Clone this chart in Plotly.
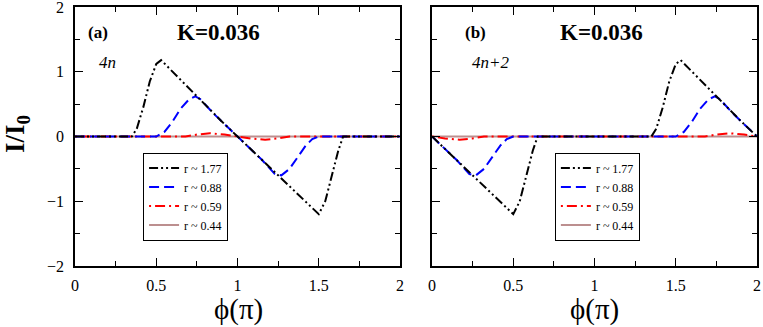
import plotly.graph_objects as go

# panel (a): 4n
phi_a_177 = [0, 0.35, 0.38, 0.42, 0.46, 0.50, 0.53, 0.60, 0.70, 0.80, 0.90, 1.00,
             1.10, 1.20, 1.30, 1.40, 1.47, 1.50, 1.54, 1.58, 1.62, 1.65, 2.0]
cur_a_177 = [0, 0, 0.12, 0.45, 0.85, 1.12, 1.18, 1.00, 0.74, 0.49, 0.24, 0,
             -0.24, -0.48, -0.72, -0.96, -1.13, -1.20, -1.00, -0.62, -0.22, 0, 0]
phi_a_088 = [0, 0.50, 0.55, 0.60, 0.65, 0.70, 0.74, 0.77, 0.85, 0.95, 1.00, 1.05,
             1.15, 1.23, 1.27, 1.32, 1.37, 1.42, 1.46, 1.50, 2.0]
cur_a_088 = [0, 0, 0.07, 0.23, 0.43, 0.57, 0.62, 0.58, 0.36, 0.12, 0, -0.12,
             -0.36, -0.58, -0.6, -0.5, -0.32, -0.14, -0.04, 0, 0]
phi_a_059 = [0, 0.68, 0.75, 0.83, 0.92, 1.00, 1.08, 1.17, 1.25, 1.32, 2.0]
cur_a_059 = [0, 0, 0.03, 0.05, 0.03, 0, -0.03, -0.05, -0.03, 0, 0]
phi_a_044 = [0, 0.5, 1.0, 1.5, 2.0]
cur_a_044 = [0, 0, 0, 0, 0]

# panel (b): 4n+2
phi_b_177 = [0, 0.10, 0.20, 0.30, 0.40, 0.47, 0.50, 0.54, 0.58, 0.62, 0.65, 1.35,
             1.38, 1.42, 1.46, 1.50, 1.53, 1.60, 1.70, 1.80, 1.90, 2.0]
cur_b_177 = [0, -0.24, -0.48, -0.72, -0.96, -1.13, -1.20, -1.00, -0.62, -0.22, 0, 0,
             0.12, 0.45, 0.85, 1.12, 1.18, 1.00, 0.74, 0.49, 0.24, 0]
phi_b_088 = [0, 0.05, 0.15, 0.23, 0.27, 0.32, 0.37, 0.42, 0.46, 0.50, 1.50,
             1.55, 1.60, 1.65, 1.70, 1.74, 1.77, 1.85, 1.95, 2.0]
cur_b_088 = [0, -0.12, -0.36, -0.58, -0.6, -0.5, -0.32, -0.14, -0.04, 0, 0,
             0.07, 0.23, 0.43, 0.57, 0.62, 0.58, 0.36, 0.12, 0]
phi_b_059 = [0, 0.08, 0.17, 0.25, 0.32, 1.68, 1.75, 1.83, 1.92, 2.0]
cur_b_059 = [0, -0.03, -0.05, -0.03, 0, 0, 0.03, 0.05, 0.03, 0]
phi_b_044 = [0, 0.5, 1.0, 1.5, 2.0]
cur_b_044 = [0, 0, 0, 0, 0]

labels = ["r ~ 1.77", "r ~ 0.88", "r ~ 0.59", "r ~ 0.44"]
colors = ["#000000", "#0000ff", "#ff0000", "#bc8f8f"]
dashes = ["9px,3px,2px,3px,2px,3px", "10px,5px", "2px,4px,10px,4px", "solid"]

x_ticks = [0, 0.5, 1, 1.5, 2]
y_ticks = [-2, -1, 0, 1, 2]

panel_a = [(phi_a_177, cur_a_177), (phi_a_088, cur_a_088),
           (phi_a_059, cur_a_059), (phi_a_044, cur_a_044)]
panel_b = [(phi_b_177, cur_b_177), (phi_b_088, cur_b_088),
           (phi_b_059, cur_b_059), (phi_b_044, cur_b_044)]

fig = go.Figure()
for i in [3, 2, 1, 0]:
    x, y = panel_a[i]
    fig.add_trace(go.Scatter(x=x, y=y, mode="lines", name=labels[i],
                             line=dict(color=colors[i], width=2, dash=dashes[i]),
                             xaxis="x", yaxis="y", legend="legend", legendrank=i))
    x, y = panel_b[i]
    fig.add_trace(go.Scatter(x=x, y=y, mode="lines", name=labels[i],
                             line=dict(color=colors[i], width=2, dash=dashes[i]),
                             xaxis="x2", yaxis="y2", legend="legend2", legendrank=i))

serif = "Liberation Serif"
axis_common = dict(range=[0, 2], showgrid=False, zeroline=False, showline=True,
                   linecolor="black", linewidth=1.5, mirror="ticks", ticks="inside",
                   ticklen=8, tickwidth=1.2, tickcolor="black", automargin=False,
                   tickvals=x_ticks, ticklabelstandoff=4, ticklabeloverflow="allow",
                   minor=dict(ticks="inside", ticklen=5, dtick=0.25, tickcolor="black"),
                   tickfont=dict(family=serif, size=16, color="black"))
yaxis_common = dict(range=[-2, 2], showgrid=False, zeroline=False, showline=True,
                    linecolor="black", linewidth=1.5, mirror="ticks", ticks="inside",
                    ticklen=8, tickwidth=1.2, tickcolor="black", automargin=False,
                    tickvals=y_ticks, ticklabelstandoff=6, ticklabeloverflow="allow",
                    minor=dict(ticks="inside", ticklen=5, dtick=0.5, tickcolor="black"),
                    tickfont=dict(family=serif, size=16, color="black"))

legend_common = dict(bgcolor="white", bordercolor="black", borderwidth=1,
                     font=dict(family=serif, size=12, color="black"),
                     xanchor="left", yanchor="middle", tracegroupgap=0, itemwidth=30)

fig.update_layout(
    width=763, height=327, margin=dict(l=0, r=6, t=7, b=61, autoexpand=False),
    plot_bgcolor="white", paper_bgcolor="white",
    font=dict(family=serif, color="black"),
    xaxis=dict(domain=[0.0991, 0.5284], anchor="y", **axis_common),
    yaxis=dict(domain=[0, 1], anchor="x", **yaxis_common),
    xaxis2=dict(domain=[0.5707, 1.0], anchor="y2", **axis_common),
    yaxis2=dict(domain=[0, 1], anchor="x2", showticklabels=False, **yaxis_common),
    legend=dict(x=0.189, y=0.268, **legend_common),
    legend2=dict(x=0.733, y=0.268, **legend_common),
)

ann = [
    dict(text="<b>(a)</b>", x=0.14, y=1.61, xref="x", yref="y", size=17),
    dict(text="<b>K=0.036</b>", x=0.88, y=1.61, xref="x", yref="y", size=23),
    dict(text="<i>4n</i>", x=0.20, y=1.15, xref="x", yref="y", size=17),
    dict(text="<b>(b)</b>", x=0.27, y=1.61, xref="x2", yref="y2", size=17),
    dict(text="<b>K=0.036</b>", x=1.04, y=1.61, xref="x2", yref="y2", size=23),
    dict(text="<i>4n+2</i>", x=0.36, y=1.15, xref="x2", yref="y2", size=17),
]
for a in ann:
    fig.add_annotation(text=a["text"], x=a["x"], y=a["y"], xref=a["xref"], yref=a["yref"],
                       showarrow=False, font=dict(family=serif, size=a["size"], color="black"))
for xc in [238 / 757, 594 / 757]:
    fig.add_annotation(text="\u03d5(\u03c0)", x=xc, y=-0.168, xref="paper", yref="paper",
                       xanchor="center", yanchor="middle", showarrow=False,
                       font=dict(family=serif, size=29, color="black"))
fig.add_annotation(text="<b>I/I<sub>0</sub></b>", x=17 / 757, y=0.51, xref="paper", yref="paper",
                   xanchor="center", yanchor="middle", textangle=-90, showarrow=False,
                   font=dict(family=serif, size=27, color="black"))

fig.write_html("out.html", config={"displayModeBar": False},
               post_script="document.body.style.margin='0';")
